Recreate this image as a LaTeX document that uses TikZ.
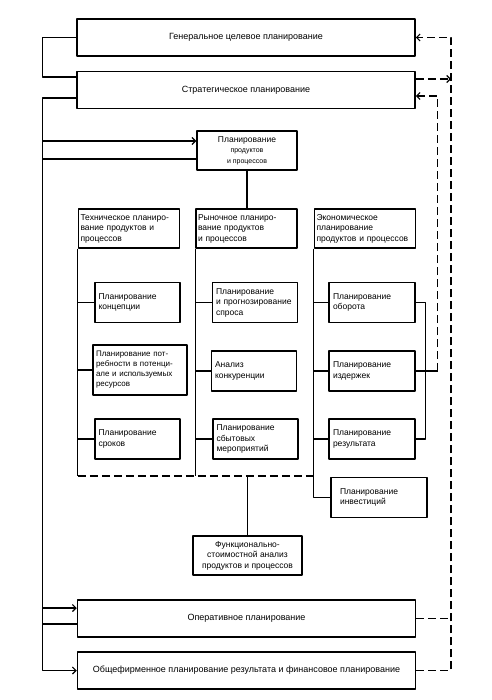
\documentclass[tikz,border=0pt]{standalone}
\usepackage{fontspec}
\setmainfont{Liberation Sans}
\usetikzlibrary{arrows.meta}
\begin{document}
\begin{tikzpicture}[x=1pt,y=-1pt,line width=1.1pt,line join=round,
  >={Straight Barb[length=3.5pt,width=7pt]},
  font=\fontsize{8.5}{10.5}\selectfont,
  wide/.style={draw,line width=1.5pt,minimum width=338pt,minimum height=37pt,font=\fontsize{9}{11}\selectfont},
  head/.style={draw,line width=1.5pt,minimum width=101pt,minimum height=39pt,text width=97pt,align=left,inner sep=2pt},
  sub/.style={draw,line width=1.5pt,minimum width=85pt,minimum height=40pt,text width=78pt,align=left,inner sep=2pt},
  midbox/.style={draw,line width=1.5pt,minimum height=39pt,align=center,inner sep=1pt},
  feedback/.style={dash pattern=on 8pt off 4pt}]
  \useasboundingbox (0,0) rectangle (491,700);
  % levels
  \node[wide] (gen) at (246,37.5) {Генеральное целевое планирование};
  \node[wide] (strat) at (246,90) {Стратегическое планирование};
  \node[midbox,minimum width=100pt] (prod) at (247,150.5) {Планирование\\{\fontsize{7}{9}\selectfont продуктов}\\{\fontsize{7}{9}\selectfont и процессов}};
  % three columns
  \node[head] (tech) at (129,228.5) {Техническое планиро-\\вание продуктов и\\процессов};
  \node[head] (mark) at (246.5,228.5) {Рыночное планиро-\\вание продуктов\\и процессов};
  \node[head] (econ) at (365,228.5) {Экономическое\\планирование\\продуктов и процессов};
  \node[sub] (konz) at (137.5,302.5) {Планирование\\концепции};
  \node[sub,line width=2.4pt,minimum width=94pt,minimum height=50pt,text width=88pt,font=\fontsize{8}{10}\selectfont] (potr) at (140,370) {Планирование пот-\\ребности в потенци-\\але и используемых\\ресурсов};
  \node[sub] (srok) at (137.5,439) {Планирование\\сроков};
  \node[sub] (spros) at (255,302.5) {Планирование\\и прогнозирование\\спроса};
  \node[sub] (konk) at (254,371) {Анализ\\конкуренции};
  \node[sub] (sbyt) at (255.5,439) {Планирование\\сбытовых\\мероприятий};
  \node[sub,minimum width=86pt] (obor) at (372,302.5) {Планирование\\оборота};
  \node[sub,minimum width=86pt] (izd) at (372,371) {Планирование\\издержек};
  \node[sub,minimum width=86pt] (rez) at (372,439) {Планирование\\результата};
  \node[sub,minimum width=96pt] (inv) at (379,497.5) {Планирование\\инвестиций};
  \node[midbox,minimum width=109pt] (fsa) at (247.5,555.5) {Функционально-\\стоимостной анализ\\продуктов и процессов};
  \node[wide] (oper) at (246.5,618.5) {Оперативное планирование};
  \node[wide] (obsch) at (246.5,670.5) {Общефирменное планирование результата и финансовое планирование};

  % left trunk
  \draw (gen.west) -- ++(-34,0) |- ([yshift=13pt]strat.west);
  \draw[->] ([yshift=-8pt]strat.west) -- ++(-34,0) coordinate (trunk) |- (obsch.west);
  \coordinate (p1) at ([yshift=9.5pt]prod.west);
  \coordinate (p2) at ([yshift=-8.5pt]prod.west);
  \coordinate (o1) at ([yshift=10.5pt]oper.west);
  \coordinate (o2) at ([yshift=-5.5pt]oper.west);
  \draw[->] (p1 -| trunk) -- (p1);
  \draw (p2) -- (p2 -| trunk);
  \draw[->] (o1 -| trunk) -- (o1);
  \draw (o2) -- (o2 -| trunk);

  % columns
  \coordinate (base) at (247.5,476);
  \draw (prod.south) -- (prod.south |- mark.north);
  \draw (tech.south west) -- (tech.south west |- base);
  \draw (mark.south west) -- (mark.south west |- base);
  \draw (econ.south west) |- (inv.west);
  \draw[feedback] (tech.south west |- base) -- (econ.south west |- base);
  \draw (base) -- (fsa.north);
  \foreach \b in {konz,potr,srok} \draw (\b.west) -- (\b.west -| tech.west);
  \foreach \b in {spros,konk,sbyt} \draw (\b.west) -- (\b.west -| mark.west);
  \foreach \b in {obor,izd,rez} \draw (\b.west) -- (\b.west -| econ.west);
  \draw (obor.east) -- ++(10,0) |- (rez.east);

  % feedback on the right
  \draw (izd.east) -- ++(22,0) coordinate (r1);
  \draw[feedback,->] (r1) |- ([yshift=-6pt]strat.east);
  \coordinate (r2) at (451,0);
  \draw[feedback,->] (obsch.east) -| (r2 |- gen.east) -- (gen.east);
  \draw[feedback] (oper.east) -- (oper.east -| r2);
  \draw[feedback,->] ([yshift=11pt]strat.east) -- ([yshift=11pt]strat.east -| r2);
\end{tikzpicture}
\end{document}
